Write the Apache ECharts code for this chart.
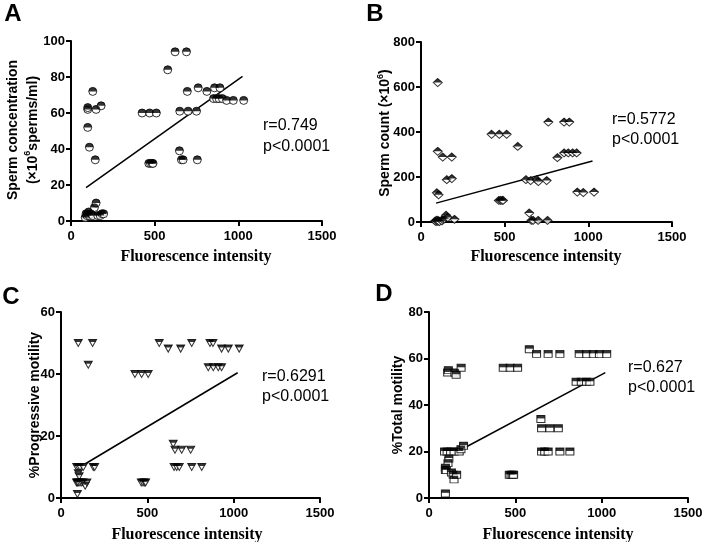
<!DOCTYPE html>
<html><head><meta charset="utf-8">
<script src="https://cdn.jsdelivr.net/npm/echarts@6/dist/echarts.min.js"></script>
<style>html,body{margin:0;padding:0;background:#fff}#c{width:702px;height:542px}</style>
</head><body><div id="c"></div>
<script>
// ---- Data ----
const xTickMax = 1500, xTickStep = 500;
const yMaxA = 100, yStepA = 20;
const yMaxB = 800, yStepB = 200;
const yMaxC = 60, yStepC = 20;
const yMaxD = 80, yStepD = 20;

// Panel A: fluorescence intensity vs sperm concentration
const pointsA = [
  [85,2],[90,4],[95,3],[100,4],[105,5],[110,3],[120,4],[130,3],[140,7.5],[150,10],[160,3],[175,3],[185,4],[195,4],
  [100,52],[100,62],[100,63],[110,41],[130,72],[145,34],[150,62],[180,64],
  [425,60],[470,60],[510,60],[465,32],[475,32],[485,32],[490,32],
  [578,84],[622,94],[690,94],[650,61],[695,72],[700,61],[750,61],[648,39],[660,34],[670,34],[755,34],
  [760,74],[812,72],[858,74],[890,74],[852,68],[870,68],[885,68],[905,68],[930,67],[970,67],[1032,67]
];
const fitA = [[90,18.5],[1025,80.3]];
const statsA = ['r=0.749','p<0.0001'];

// Panel B: fluorescence intensity vs sperm count
const pointsB = [
  [85,5],[90,2],[95,8],[100,3],[105,6],[110,2],[125,5],[130,12],[140,15],[150,30],[160,20],[200,12],
  [100,620],[100,314],[130,289],[184,289],[154,188],[184,193],[95,130],[105,121],
  [422,390],[468,390],[512,390],[465,96],[475,96],[485,96],[490,96],
  [578,336],[627,188],[655,184],[691,188],[701,180],[751,184],[647,40],[660,7],[670,7],[700,7],[756,7],
  [761,444],[855,444],[886,444],[815,286],[855,307],[880,307],[906,307],[930,307],[934,133],[970,131],[1034,133]
];
const fitB = [[90,84],[1025,271]];
const statsB = ['r=0.5772','p<0.0001'];

// Panel C: fluorescence intensity vs % progressive motility
const pointsC = [
  [91,10],[100,10],[110,10],[129,10],[187,10],[195,10],[100,8],[105,7],
  [90,5],[95,5],[100,5],[110,5],[120,5],[130,5],[140,4],[150,5],[95,1.3],
  [100,50],[183,50],[158,43],
  [428,40],[467,40],[505,40],[465,5],[475,5],[485,5],[490,5],
  [569,50],[621,48.2],[693,48.2],[757,50],[863,50],[880,50],[930,48.2],[969,48.2],[1032,48.2],
  [853,42.2],[882,42.2],[911,42.2],[930,42.2],
  [650,17.5],[660,15.6],[699,15.6],[751,15.6],[655,10],[670,10],[685,10],[757,10],[815,10]
];
const fitC = [[110,10],[1023,40.4]];
const statsC = ['r=0.6291','p<0.0001'];

// Panel D: fluorescence intensity vs % total motility
const pointsD = [
  [90,20],[105,20],[125,20],[145,20],[175,20],[185,21],[200,22.5],
  [108,54],[112,55],[150,54],[157,53],[186,56],
  [115,17],[110,15],[95,13],[95,12],[100,12],[130,11],[140,10],[145,8],[160,10],[95,2],
  [430,56],[470,56],[513,56],[465,10],[475,10],[485,10],[490,10],
  [581,64],[623,62],[690,62],[758,62],[870,62],[913,62],[952,62],[987,62],[1029,62],
  [852,50],[882,50],[912,50],[932,50],
  [648,34],[652,30],[700,30],[749,30],[652,20],[670,20],[690,20],[758,20],[816,20]
];
const fitD = [[90,17],[1021,53.9]];
const statsD = ['r=0.627','p<0.0001'];

// ---- Chart ----
const chart = echarts.init(document.getElementById('c'), null, {renderer:'canvas'});
const SANS = 'Liberation Sans, Arial, sans-serif';
const SERIF = 'Liberation Serif, Times New Roman, serif';

const grids = [
  {left:71, top:41, width:251, height:180},
  {left:421, top:42, width:251, height:180},
  {left:61, top:312, width:259, height:186},
  {left:429, top:312, width:259, height:186}
].map(g => Object.assign({containLabel:false, outerBoundsMode:'none'}, g));

function axisCommon(i){
  return {
    type:'value', gridIndex:i, min:0,
    axisLine:{show:true, onZero:false, lineStyle:{color:'#000', width:2}},
    axisTick:{show:true, length:5, lineStyle:{color:'#000', width:2}},
    axisLabel:{color:'#000', fontWeight:'bold', fontSize:13, fontFamily:SANS, formatter: v => String(v)},
    splitLine:{show:false}
  };
}
const yMax = [yMaxA,yMaxB,yMaxC,yMaxD], yStep = [yStepA,yStepB,yStepC,yStepD];
const xAxes = [0,1,2,3].map(i => {
  const a = axisCommon(i); a.max = xTickMax; a.interval = xTickStep; a.axisLabel.margin = 9; return a;
});
const yAxes = [0,1,2,3].map(i => {
  const a = axisCommon(i); a.max = yMax[i]; a.interval = yStep[i]; a.axisLabel.margin = 6; return a;
});

const base = {itemStyle:{color:'#fff', borderColor:'#000', borderWidth:1}};
const shapes = [
  {sym:'circle', size:8, top:'path://M0,10A10,10 0 0 1 20,10Z', topSize:[8,4], off:[0,-2]},
  {sym:'diamond', size:[9,8], top:'path://M0,10L10,0L20,10Z', topSize:[9,4], off:[0,-2]},
  {sym:'path://M0,0L20,0L10,20Z', size:[8,7], top:'path://M0,0L20,0L16.4,7L3.6,7Z', topSize:[8,2.5], off:[0,-2.25]},
  {sym:'rect', size:[8,7], top:'rect', topSize:[8,3], off:[0,-2]}
];
const pts = [pointsA,pointsB,pointsC,pointsD];
const fits = [fitA,fitB,fitC,fitD];
const series = [];
[0,1,2,3].forEach(i => {
  series.push({type:'line', xAxisIndex:i, yAxisIndex:i, data:fits[i], symbol:'none',
    lineStyle:{color:'#000', width:1.5}, silent:true, z:1});
  series.push({type:'scatter', xAxisIndex:i, yAxisIndex:i, data:pts[i], symbol:shapes[i].sym,
    symbolSize:shapes[i].size, itemStyle:base.itemStyle, z:2});
  series.push({type:'scatter', xAxisIndex:i, yAxisIndex:i, data:pts[i], symbol:shapes[i].top,
    symbolSize:shapes[i].topSize, symbolOffset:shapes[i].off, itemStyle:{color:'#000', borderWidth:0}, z:3});
});

function txt(x, y, text, font, align, extra){
  return Object.assign({type:'text', x:x, y:y, style:{text:text, font:font, fill:'#000',
    textAlign:align||'left', textVerticalAlign:'middle'}}, extra||{});
}
const boldLetter = 'bold 24px ' + SANS;
const statFont = '16px ' + SANS;
const yTitleFont = 'bold 14px ' + SANS;
const xTitleFont = 'bold 16px ' + SERIF;
const graphics = [
  txt(13,14,'A',boldLetter,'center'),
  txt(375,14,'B',boldLetter,'center'),
  txt(11,297,'C',boldLetter,'center'),
  txt(384,294,'D',boldLetter,'center'),
  txt(263,126,statsA[0],statFont), txt(263,147,statsA[1],statFont),
  txt(612,120,statsB[0],statFont), txt(612,140,statsB[1],statFont),
  txt(262,377,statsC[0],statFont), txt(262,397,statsC[1],statFont),
  txt(628,368,statsD[0],statFont), txt(628,388,statsD[1],statFont),
  txt(196,257,'Fluorescence intensity',xTitleFont,'center'),
  txt(546,257,'Fluorescence intensity',xTitleFont,'center'),
  txt(187,535,'Fluorescence intensity',xTitleFont,'center'),
  txt(558,535,'Fluorescence intensity',xTitleFont,'center'),
  {type:'text', x:23, y:130, rotation:Math.PI/2, style:{
    text:'{a|Sperm concentration}\n{a|(×10}{s|6}{a|sperms/ml)}', fill:'#000',
    textAlign:'center', textVerticalAlign:'middle',
    rich:{a:{font:yTitleFont, lineHeight:20, fill:'#000'}, s:{font:'bold 9px '+SANS, verticalAlign:'top', lineHeight:20, fill:'#000'}}}},
  {type:'text', x:385, y:133, rotation:Math.PI/2, style:{
    text:'{a|Sperm count (×10}{s|6}{a|)}', fill:'#000',
    textAlign:'center', textVerticalAlign:'middle',
    rich:{a:{font:yTitleFont, lineHeight:18, fill:'#000'}, s:{font:'bold 9px '+SANS, verticalAlign:'top', lineHeight:18, fill:'#000'}}}},
  {type:'text', x:35, y:405, rotation:Math.PI/2, style:{text:'%Progressive motility', font:yTitleFont, fill:'#000', textAlign:'center', textVerticalAlign:'middle'}},
  {type:'text', x:398, y:405, rotation:Math.PI/2, style:{text:'%Total motility', font:yTitleFont, fill:'#000', textAlign:'center', textVerticalAlign:'middle'}}
];

chart.setOption({
  animation:false,
  backgroundColor:'#fff',
  grid:grids, xAxis:xAxes, yAxis:yAxes, series:series, graphic:graphics
});
</script></body></html>
